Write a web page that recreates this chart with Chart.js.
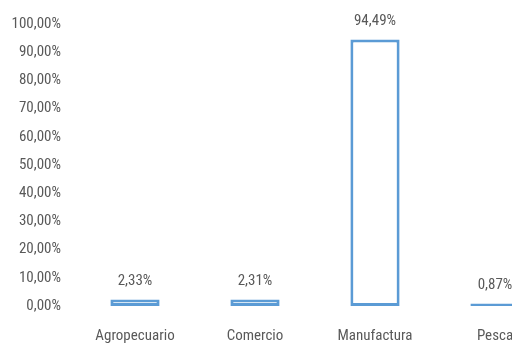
<!DOCTYPE html>
<html>
<head>
<meta charset="utf-8">
<script src="https://cdn.jsdelivr.net/npm/chart.js@4/dist/chart.umd.min.js"></script>
<style>
  html, body { margin: 0; padding: 0; background: #ffffff; overflow: hidden; width: 512px; height: 343px; }
  #wrap { position: absolute; left: 0; top: 0; width: 555px; height: 343px; }
</style>
</head>
<body>
<div id="wrap"><canvas id="c" width="555" height="343"></canvas></div>
<script>
const categories = ["Agropecuario", "Comercio", "Manufactura", "Pesca"];
const shares = [2.33, 2.31, 94.49, 0.87];
const yTicks = [0, 10, 20, 30, 40, 50, 60, 70, 80, 90, 100];

const FONT = "'Roboto Condensed', 'DejaVu Sans Condensed', sans-serif";
const TEXT = "#595959";
const BLUE = "#5B9BD5";

function fmt(v) { return v.toFixed(2).replace('.', ',') + '%'; }

const labelPlugin = {
  id: 'barLabels',
  afterDatasetsDraw(chart) {
    const ctx = chart.ctx;
    const meta = chart.getDatasetMeta(0);
    ctx.save();
    ctx.font = "15px " + FONT;
    ctx.fillStyle = TEXT;
    ctx.textAlign = 'center';
    ctx.textBaseline = 'middle';
    meta.data.forEach((el, i) => {
      ctx.fillText(fmt(shares[i]), el.x, el.y - 18);
    });
    ctx.restore();
  }
};

new Chart(document.getElementById('c'), {
  type: 'bar',
  data: {
    labels: categories,
    datasets: [{
      data: shares,
      backgroundColor: '#ffffff',
      borderColor: BLUE,
      borderWidth: 3,
      borderSkipped: false,
      categoryPercentage: 1,
      barPercentage: 0.41
    }]
  },
  options: {
    responsive: false,
    animation: false,
    layout: { padding: { top: 24, right: 0, bottom: 0, left: 0 } },
    plugins: { legend: { display: false }, tooltip: { enabled: false } },
    scales: {
      x: {
        grid: { display: false, drawTicks: false },
        border: { display: false },
        ticks: { color: TEXT, font: { family: FONT, size: 15 }, padding: 21, maxRotation: 0, autoSkip: false },
        afterFit(s) { s.height = 37; }
      },
      y: {
        min: 0, max: 100,
        grid: { display: false, drawTicks: false },
        border: { display: false },
        afterBuildTicks(s) { s.ticks = yTicks.map(v => ({ value: v })); },
        ticks: { color: TEXT, font: { family: FONT, size: 15 }, padding: 14, callback: v => fmt(v) },
        afterFit(s) { s.width = 75; }
      }
    }
  },
  plugins: [labelPlugin]
});
</script>
</body>
</html>
